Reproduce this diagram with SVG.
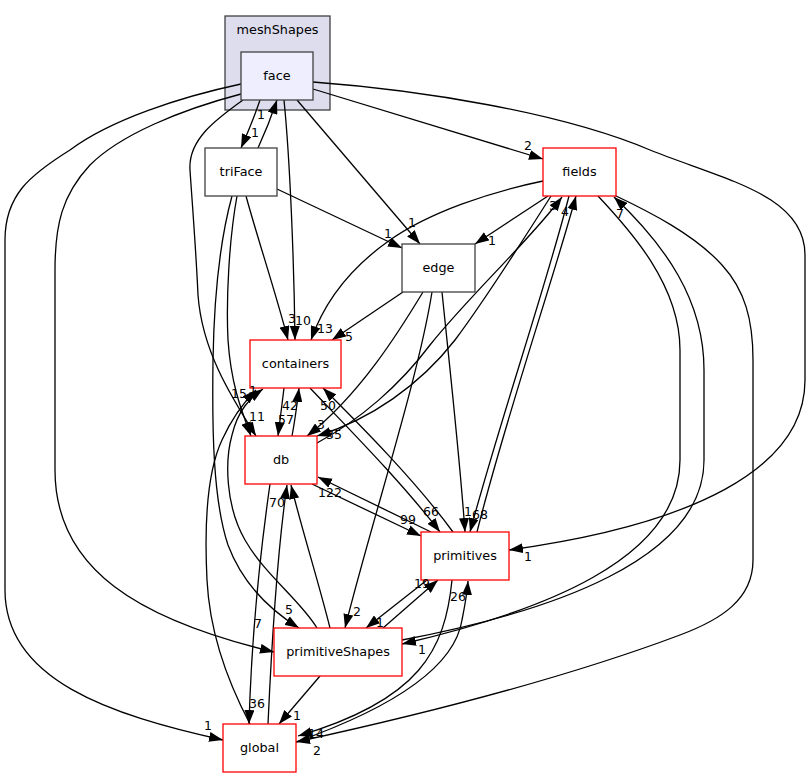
<svg xmlns="http://www.w3.org/2000/svg" width="811" height="777" viewBox="0 0 811 777">
<style>
text{font-family:"DejaVu Sans","Noto Sans",sans-serif;text-anchor:middle;fill:#000}
.node text{font-size:12.8px}
.lbl text{font-size:12.5px}
.g rect{fill:#fff;stroke:#404040;stroke-width:1.3}
.r rect{fill:#fff;stroke:#ff0000;stroke-width:1.3}
#edges path{fill:none;stroke:#000;stroke-width:1.3;marker-end:url(#a)}
</style>
<defs>
<marker id="a" viewBox="0 0 14 10" refX="14" refY="5" markerWidth="14" markerHeight="10" markerUnits="userSpaceOnUse" orient="auto"><path d="M0,0 L14,5 L0,10 z" fill="#000"/></marker>
</defs>
<rect width="811" height="777" fill="#fff"/>
<g id="cluster_meshShapes">
<rect x="225" y="16" width="105" height="94" fill="#ddddee" stroke="#404040" stroke-width="1.3"/>
<text x="277.5" y="34" style="font-size:12.8px">meshShapes</text>
</g>
<g id="edges">
<path d="M260,100 C255,115 248,132 241,148"/>
<path d="M258,148 C264,135 271,118 277,100"/>
<path d="M241,84 C180,97 110,120 70,150 C30,175 5,195 5,240 L5,590 C5,680 110,715 223,740"/>
<path d="M241,94 C180,110 120,135 90,165 C62,195 55,225 55,270 L55,470 C55,570 140,620 274,652"/>
<path d="M243,100 C215,120 188,140 190,170 C192,200 196,250 198,295 C202,350 230,395 256,436"/>
<path d="M284,100 C290,160 294,260 295,340"/>
<path d="M297,100 L420,244"/>
<path d="M313,89 L543,159"/>
<path d="M313,82 C420,90 560,112 650,150 C725,180 805,195 805,255 L805,380 C805,470 690,525 509,550"/>
<path d="M277,189 L402,248"/>
<path d="M246,196 C258,240 275,290 288,340"/>
<path d="M237,196 C229,240 226,300 228,340 C231,385 242,412 251,436"/>
<path d="M232,196 C220,240 214,300 213,360 C212,430 213,500 228,545 C243,585 270,610 299,628"/>
<path d="M548,196 L475,244"/>
<path d="M543,181 C490,192 430,212 390,240 C350,268 325,300 311,340"/>
<path d="M551,196 C520,245 485,300 455,340 C420,385 370,420 317,436"/>
<path d="M317,443 C360,420 400,385 430,345 C470,295 530,240 562,197"/>
<path d="M569,196 C545,290 500,420 470,532"/>
<path d="M477,532 C505,420 550,290 576,196"/>
<path d="M614,195 C650,212 695,235 722,265 C745,290 753,320 753,360 L753,560 C753,600 720,620 680,635 C560,680 420,715 296,742"/>
<path d="M598,196 C630,230 680,285 680,350 L680,460 C680,560 540,612 402,644"/>
<path d="M402,640 C550,612 704,560 704,460 L704,370 C704,300 665,245 614,197"/>
<path d="M317,628 C300,600 265,575 245,540 C225,505 225,460 232,435 C238,410 250,398 263,389"/>
<path d="M250,724 C232,690 210,640 207,580 C204,520 208,470 222,440 C232,418 244,402 256,390"/>
<path d="M330,628 C318,580 302,530 291,485"/>
<path d="M268,724 C270,680 276,560 287,485"/>
<path d="M270,484 C262,540 252,620 249,724"/>
<path d="M383,628 L438,580"/>
<path d="M427,580 L366,628"/>
<path d="M320,676 L279,724"/>
<path d="M452,580 C445,650 420,700 298,736"/>
<path d="M296,742 C400,705 455,665 462,620 C465,605 467,595 468,581"/>
<path d="M292,436 C295,420 297,405 299,388"/>
<path d="M284,388 C282,405 280,420 278,436"/>
<path d="M431,532 L318,477"/>
<path d="M312,484 L421,536"/>
<path d="M310,388 C345,425 400,480 440,532"/>
<path d="M453,532 C415,480 360,425 323,388"/>
<path d="M403,292 L332,340"/>
<path d="M423,292 C400,330 360,395 307,436"/>
<path d="M432,292 C418,380 372,520 345,628"/>
<path d="M442,292 C450,370 460,460 465,532"/>
</g>
<g id="node_face" class="node g"><rect x="241" y="52" width="72" height="48" style="fill:#eeeeff"/><text x="277" y="80">face</text></g>
<g id="node_triFace" class="node g"><rect x="205" y="148" width="72" height="48"/><text x="241" y="176">triFace</text></g>
<g id="node_edge" class="node g"><rect x="402" y="244" width="73" height="48"/><text x="438.5" y="272">edge</text></g>
<g id="node_fields" class="node r"><rect x="543" y="148" width="73" height="48"/><text x="579.5" y="176">fields</text></g>
<g id="node_containers" class="node r"><rect x="250" y="340" width="91" height="48"/><text x="295.5" y="368">containers</text></g>
<g id="node_db" class="node r"><rect x="245" y="436" width="72" height="48"/><text x="281" y="464">db</text></g>
<g id="node_primitives" class="node r"><rect x="421" y="532" width="88" height="48"/><text x="465" y="560">primitives</text></g>
<g id="node_primitiveShapes" class="node r"><rect x="274" y="628" width="128" height="48"/><text x="338" y="656">primitiveShapes</text></g>
<g id="node_global" class="node r"><rect x="223" y="724" width="73" height="48"/><text x="259.5" y="752">global</text></g>
<g class="lbl">
<text x="255" y="137">1</text>
<text x="261" y="119">1</text>
<text x="208" y="730">1</text>
<text x="258" y="628">7</text>
<text x="257" y="421">11</text>
<text x="303" y="325">10</text>
<text x="412" y="227">1</text>
<text x="528" y="150">2</text>
<text x="528" y="561">1</text>
<text x="388" y="238">1</text>
<text x="292" y="323">3</text>
<text x="289" y="614">5</text>
<text x="492" y="245">1</text>
<text x="325" y="333">13</text>
<text x="349" y="341">5</text>
<text x="321" y="429">3</text>
<text x="334" y="439">35</text>
<text x="553" y="210">3</text>
<text x="565" y="216">4</text>
<text x="480" y="519">68</text>
<text x="468" y="516">1</text>
<text x="317" y="755">2</text>
<text x="316" y="738">14</text>
<text x="422" y="654">1</text>
<text x="620" y="218">7</text>
<text x="239" y="398">15</text>
<text x="253" y="395">1</text>
<text x="277" y="507">70</text>
<text x="257" y="708">36</text>
<text x="422" y="588">19</text>
<text x="380" y="627">1</text>
<text x="297" y="720">1</text>
<text x="458" y="601">26</text>
<text x="290" y="410">42</text>
<text x="286" y="424">57</text>
<text x="330" y="497">122</text>
<text x="408" y="524">99</text>
<text x="431" y="516">66</text>
<text x="328" y="410">50</text>
<text x="357" y="616">2</text>
</g>
</svg>
